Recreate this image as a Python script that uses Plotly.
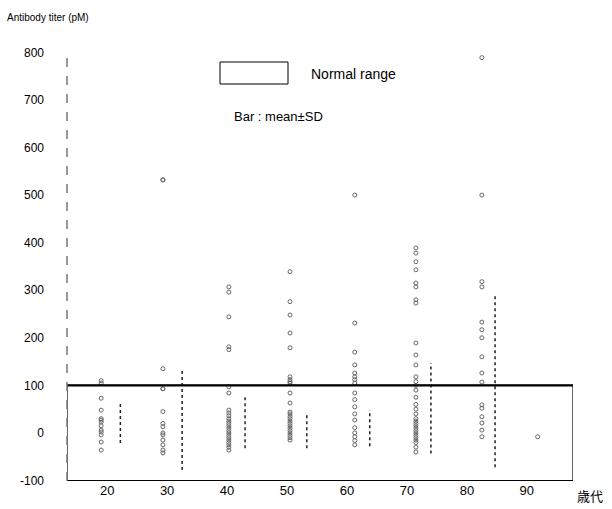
import plotly.graph_objects as go

# ---- data ----
decade_ticks = [20, 30, 40, 50, 60, 70, 80, 90]
y_ticks = [-100, 0, 100, 200, 300, 400, 500, 600, 700, 800]

pt_x = [19, 29.3, 40.3, 50.5, 61.3, 71.5, 82.5, 91.8]
pts_20 = [110, 105, 73, 48, 27, 23, 6, 2, -4, -19, -36, 15, 30]
pts_30 = [532, 532, 135, 93, 93, 45, 13, -4, -15, -25, -36, -42, 0, 20]
pts_40 = [307, 296, 244, 181, 175, 97, 84, 48, 42, 36, 30, 25, 20, 15, 10, 5, 0, -5, -10, -15, -20, -25, -30, -36]
pts_50 = [339, 276, 248, 210, 179, 118, 112, 108, 105, 84, 63, 44, 40, 35, 30, 25, 20, 15, 10, 5, 0, -5, -10, -15]
pts_60 = [500, 231, 170, 143, 126, 118, 112, 105, 84, 70, 55, 40, 27, 11, 0, -8, -16, -25]
pts_70 = [389, 378, 360, 343, 315, 307, 280, 273, 189, 164, 143, 118, 108, 100, 90, 75, 60, 50, 40, 30,
          25, 20, 15, 10, 5, 0, -5, -10, -15, -20, -30, -40]
pts_80 = [789, 500, 318, 307, 233, 217, 200, 160, 126, 107, 59, 52, 34, 21, 6, -8]
pts_90 = [-8]
groups = [pts_20, pts_30, pts_40, pts_50, pts_60, pts_70, pts_80, pts_90]

bar_x = [22.2, 32.5, 43, 53.3, 63.8, 74, 84.7]
bar_mean = [22, 27, 24, 5, 10, 52, 109]
bar_sd = [43, 105, 56, 37, 38, 95, 181]

normal_low, normal_high = -100, 100
x_range = [13.3, 97.7]
y_range = [-101, 805]

fig = go.Figure()

# scatter points
xs, ys = [], []
for gx, vals in zip(pt_x, groups):
    xs += [gx] * len(vals)
    ys += vals
fig.add_trace(go.Scatter(x=xs, y=ys, mode="markers",
                         marker=dict(symbol="circle-open", size=4, color="#666",
                                     line=dict(width=1, color="#666")),
                         showlegend=False, hoverinfo="skip"))

# mean ± SD bars
bx, by = [], []
for x, m, s in zip(bar_x, bar_mean, bar_sd):
    bx += [x, x, None]
    by += [m - s, m + s, None]
fig.add_trace(go.Scatter(x=bx, y=by, mode="lines",
                         line=dict(color="#222", width=1.5, dash="dot"),
                         showlegend=False, hoverinfo="skip"))

# normal range frame
fig.add_shape(type="rect", xref="x", yref="y", x0=x_range[0], x1=x_range[1],
              y0=normal_low, y1=normal_high, line=dict(color="black", width=1.2))
fig.add_shape(type="line", xref="x", yref="y", x0=x_range[0], x1=x_range[1],
              y0=normal_high, y1=normal_high, line=dict(color="black", width=2.2))
# dashed y axis line
fig.add_shape(type="line", xref="paper", yref="y", x0=0, x1=0, y0=y_range[0], y1=y_range[1],
              line=dict(color="#777", width=1.5, dash="dash"))

# legend-like annotations
fig.add_shape(type="rect", xref="paper", yref="paper",
              x0=(220 - 67) / 506, x1=(288 - 67) / 506,
              y0=(481 - 84) / 431, y1=(481 - 62) / 431,
              line=dict(color="black", width=1))
fig.add_annotation(xref="paper", yref="paper", x=(309 - 67) / 506, y=(481 - 74) / 431,
                   text="Normal range", showarrow=False, xanchor="left", yanchor="middle",
                   font=dict(size=14, color="black"))
fig.add_annotation(xref="paper", yref="paper", x=(232 - 67) / 506, y=(481 - 117) / 431,
                   text="Bar : mean±SD", showarrow=False, xanchor="left", yanchor="middle",
                   font=dict(size=13, color="black"))
fig.add_annotation(xref="paper", yref="paper", x=(5 - 67) / 506, y=(481 - 17) / 431,
                   text="Antibody titer (pM)", showarrow=False, xanchor="left", yanchor="middle",
                   font=dict(size=10, color="black"))
fig.add_annotation(xref="paper", yref="paper", x=(575 - 67) / 506, y=(481 - 495) / 431,
                   text="歳代", showarrow=False, xanchor="left", yanchor="middle",
                   font=dict(size=13, color="black", family="Noto Sans CJK JP"))

fig.update_xaxes(range=x_range, tickvals=decade_ticks, ticktext=[str(t) for t in decade_ticks],
                 showgrid=False, zeroline=False, showline=False, ticks="",
                 tickfont=dict(size=13, color="black"))
fig.update_yaxes(range=y_range, tickvals=y_ticks, ticktext=[str(t) for t in y_ticks],
                 showgrid=False, zeroline=False, showline=False, ticks="",
                 ticklabelstandoff=22, tickfont=dict(size=12, color="black"))

fig.update_layout(width=612, height=509, paper_bgcolor="white", plot_bgcolor="white",
                  margin=dict(l=67, r=39, t=50, b=28),
                  font=dict(family="Liberation Sans, Arial, sans-serif", color="black"))

fig.write_html("out.html", config={"displayModeBar": False},
               post_script="document.body.style.margin='0';document.body.style.padding='0';")
